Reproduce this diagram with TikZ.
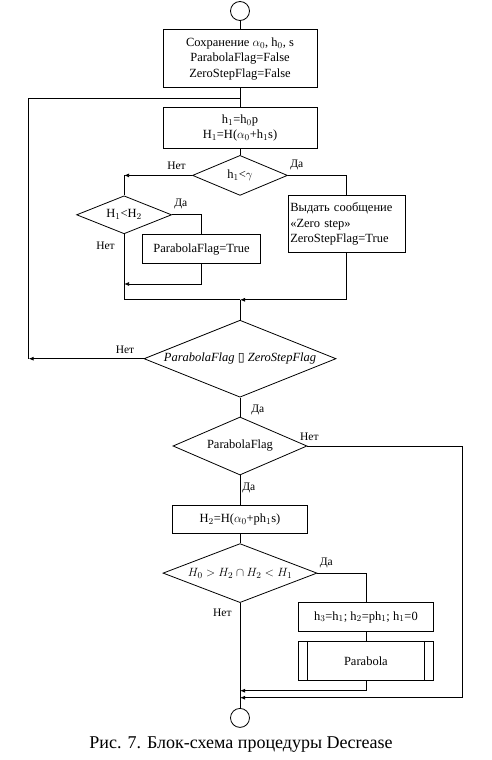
\documentclass[tikz,border=0pt]{standalone}
\usepackage{fontspec}
\setmainfont{Liberation Serif}
\newfontfamily\symfont{DejaVu Sans}
\usetikzlibrary{shapes.geometric, arrows.meta, positioning, calc}

\begin{document}
\begin{tikzpicture}[
    x=1pt, y=1pt,
    line width=0.8pt,
    font=\fontsize{12.5}{15.5}\selectfont,
    % --- Flowchart Styles ---
    procBox/.style={rectangle, draw, align=center, inner sep=2pt},
    decisionBox/.style={diamond, draw, shape aspect=2.6, inner sep=0pt},
    termCircle/.style={circle, draw, minimum size=19pt, inner sep=0pt},
    flowArrow/.style={-{Latex[length=5pt,width=4pt]}},
    branchLabel/.style={font=\fontsize{11.5}{13}\selectfont, inner sep=1pt}
]
    \useasboundingbox (0,0) rectangle (491,-760);

    % --- MAIN COLUMN (top part) ---
    \node (start) [termCircle] at (240,-11) {};

    \node (save) [procBox, minimum width=154pt, minimum height=58pt, below=8.5pt of start] {
        Сохранение $\alpha_0$, h$_0$, s \\
        ParabolaFlag=False \\
        ZeroStepFlag=False
    };
    \coordinate [below=10pt of save] (joinTop);

    \node (init) [procBox, minimum width=154pt, minimum height=41pt, below=19pt of save] {
        h$_1$=h$_0$p \\
        H$_1$=H($\alpha_0$+h$_1$s)
    };

    \node (chkStep) [decisionBox, minimum width=95pt, minimum height=40pt, below=6pt of init] {h$_1$<$\gamma$};

    % --- SIDE BRANCHES ---
    \node (zeroMsg) [procBox, align=left, text width=113pt, minimum height=57pt, below right=20pt and 0pt of chkStep.east] {
        Выдать сообщение \\
        «Zero step» \\
        ZeroStepFlag=True
    };

    \node (chkDec) [decisionBox, minimum width=95pt, minimum height=38pt, below=20pt of chkStep.west, xshift=-68pt] {H$_1$<H$_2$};

    \node (setPar) [procBox, minimum width=118pt, minimum height=29pt, below right=0pt and 18pt of chkDec.south] {ParabolaFlag=True};
    \coordinate [below=20pt of setPar] (parRet);

    % --- MAIN COLUMN (lower part) ---
    \coordinate [below=104pt of chkStep] (joinMid);

    \node (chkFlags) [decisionBox, minimum width=192pt, minimum height=77pt, below=20pt of joinMid] {\itshape ParabolaFlag {\symfont\upshape ▯} ZeroStepFlag};
    \coordinate [left=115pt of chkFlags.west] (loopLeft);

    \node (chkPar) [decisionBox, minimum width=134pt, minimum height=58pt, below=19pt of chkFlags] {ParabolaFlag};
    \coordinate [right=155pt of chkPar.east] (skipRight);

    \node (calcH) [procBox, minimum width=135pt, minimum height=28pt, below=30pt of chkPar] {H$_2$=H($\alpha_0$+ph$_1$s)};

    \node (chkMin) [decisionBox, minimum width=154pt, minimum height=59pt, below=9pt of calcH] {$H_0 > H_2 \cap H_2 < H_1$};

    \node (shift) [procBox, minimum width=135pt, minimum height=29pt, below=29pt of chkMin.east, xshift=48.5pt] {h$_3$=h$_1$; h$_2$=ph$_1$; h$_1$=0};

    \node (parab) [procBox, minimum width=135pt, minimum height=39pt, below=9pt of shift] {Parabola};
    \draw ([xshift=9pt]parab.north west) -- ([xshift=9pt]parab.south west);
    \draw ([xshift=-9pt]parab.north east) -- ([xshift=-9pt]parab.south east);
    \coordinate [below=10pt of parab] (parabRet);
    \coordinate [below=17pt of parab] (skipRet);

    \node (stop) [termCircle, below=105pt of chkMin] {};

    \node (caption) at (241,-745) {\fontsize{18}{21}\selectfont Рис. 7. Блок-схема процедуры Decrease};

    % --- Connectors ---
    \draw (start) -- (save);
    \draw (save) -- (init);
    \draw (init) -- (chkStep);
    \draw [flowArrow] (chkStep.west) -- (chkStep.west -| chkDec.north);
    \draw (chkStep.west -| chkDec.north) -- (chkDec.north);
    \draw (chkStep.east) -| (zeroMsg.north);
    \draw (chkDec.east) -| (setPar.north);
    \draw [flowArrow] (setPar.south) -- (parRet) -- (parRet -| chkDec.south);
    \draw (chkDec.south) |- (joinMid);
    \draw [flowArrow] (zeroMsg.south) |- (joinMid);
    \draw (joinMid) -- (chkFlags.north);
    \draw [flowArrow] (chkFlags.west) -- (loopLeft);
    \draw (loopLeft) |- (joinTop);
    \draw (chkFlags.south) -- (chkPar.north);
    \draw (chkPar.south) -- (calcH.north);
    \draw (chkPar.east) -- (skipRight);
    \draw [flowArrow] (skipRight) |- (skipRet -| stop.north);
    \draw (calcH) -- (chkMin);
    \draw (chkMin.east) -| (shift.north);
    \draw (shift) -- (parab);
    \draw [flowArrow] (parab.south) |- (parabRet -| stop.north);
    \draw (chkMin.south) -- (stop.north);

    % --- Branch labels ---
    \node [branchLabel, above left=4pt and 5pt of chkStep.west] {Нет};
    \node [branchLabel, above right=4pt and 1pt of chkStep.east] {Да};
    \node [branchLabel, above right=4pt and 1pt of chkDec.east] {Да};
    \node [branchLabel, below left=6pt and 8pt of chkDec.south] {Нет};
    \node [branchLabel, above left=4pt and 8pt of chkFlags.west] {Нет};
    \node [branchLabel, below right=6pt and 10pt of chkFlags.south] {Да};
    \node [branchLabel, above=4pt of chkPar.east, xshift=2pt] {Нет};
    \node [branchLabel, below right=6pt and 1pt of chkPar.south] {Да};
    \node [branchLabel, above right=4pt and 1pt of chkMin.east] {Да};
    \node [branchLabel, below left=5pt and 7pt of chkMin.south] {Нет};

\end{tikzpicture}
\end{document}
